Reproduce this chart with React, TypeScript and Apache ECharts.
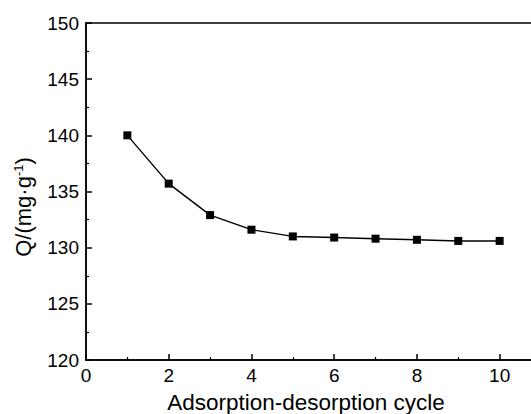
import React, { useEffect, useRef } from "react";
import * as echarts from "echarts";

const cycles = [1, 2, 3, 4, 5, 6, 7, 8, 9, 10];
const capacity = [140.0, 135.7, 132.9, 131.6, 131.0, 130.9, 130.8, 130.7, 130.6, 130.6];
const xTitle = "Adsorption-desorption cycle";
const yTitle = "Q/(mg·g{sup|-1})";

export default function App() {
  const ref = useRef<HTMLDivElement>(null);
  useEffect(() => {
    if (!ref.current) return;
    const chart = echarts.init(ref.current, undefined, { renderer: "svg" });
    const font = "Liberation Sans, Arial, sans-serif";
    chart.setOption({
      animation: false,
      backgroundColor: "#ffffff",
      grid: {
        left: 86,
        top: 23,
        bottom: 54,
        width: 455,
        outerBoundsMode: "none",
        containLabel: false,
        show: true,
        borderColor: "#000",
        borderWidth: 1.5,
        backgroundColor: "transparent",
      },
      graphic: [
        {
          type: "text",
          x: 306,
          y: 402,
          style: {
            text: xTitle,
            fontFamily: font,
            fontSize: 22.5,
            fill: "#000",
            align: "center",
            verticalAlign: "middle",
          },
        },
        {
          type: "text",
          x: 23,
          y: 207,
          rotation: Math.PI / 2,
          style: {
            text: yTitle,
            fontFamily: font,
            fontSize: 22,
            fill: "#000",
            align: "center",
            verticalAlign: "middle",
            rich: {
              sup: { fontFamily: font, fontSize: 13, fill: "#000", padding: [0, 0, 10, 0] },
            },
          },
        },
      ],
      xAxis: {
        type: "value",
        min: 0,
        max: 11,
        interval: 2,
        axisLine: { show: true, lineStyle: { color: "#000", width: 1.5 } },
        axisTick: { show: true, inside: true, length: 6, lineStyle: { color: "#000", width: 1.5 } },
        minorTick: { show: true, splitNumber: 2, length: 3, lineStyle: { color: "#000", width: 1.2 } },
        axisLabel: { fontFamily: font, fontSize: 19, color: "#000", margin: 6, showMaxLabel: false },
        splitLine: { show: false },
      },
      yAxis: {
        type: "value",
        min: 120,
        max: 150,
        interval: 5,
        axisLine: { show: true, lineStyle: { color: "#000", width: 1.5 } },
        axisTick: { show: true, inside: true, length: 6, lineStyle: { color: "#000", width: 1.5 } },
        minorTick: { show: true, splitNumber: 2, length: 3, lineStyle: { color: "#000", width: 1.2 } },
        axisLabel: { fontFamily: font, fontSize: 19, color: "#000", margin: 7 },
        splitLine: { show: false },
      },
      series: [
        {
          type: "line",
          data: cycles.map((c, i) => [c, capacity[i]]),
          symbol: "rect",
          symbolSize: 8,
          itemStyle: { color: "#000" },
          lineStyle: { color: "#000", width: 1.4 },
        },
      ],
    });
    return () => chart.dispose();
  }, []);
  return (
    <div
      ref={ref}
      style={{ position: "fixed", left: 0, top: 0, width: 531, height: 414 }}
    />
  );
}
